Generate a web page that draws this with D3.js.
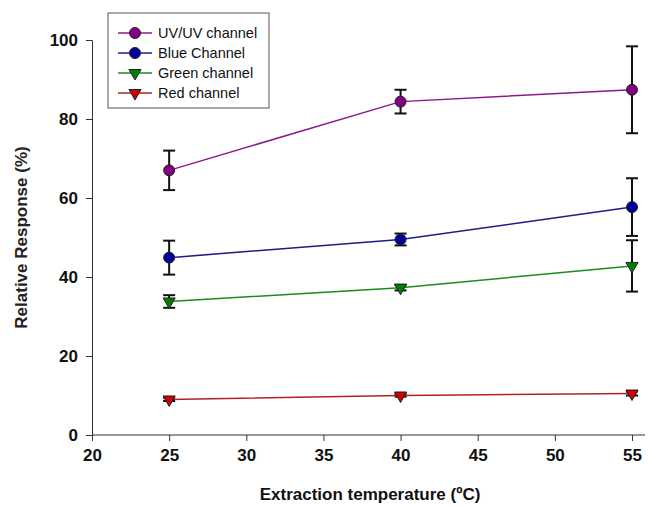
<!DOCTYPE html>
<html>
<head>
<meta charset="utf-8">
<script src="https://cdn.jsdelivr.net/npm/d3@7"></script>
<style>
  body { margin: 0; background: #fff; }
  svg text { font-family: "Liberation Sans", Arial, sans-serif; }
</style>
</head>
<body>
<div id="chart"></div>
<script>
// data
const temps = [25, 40, 55];
const seriesNames = ["UV/UV channel", "Blue Channel", "Green channel", "Red channel"];
const uvValues = [67, 84.4, 87.4];
const uvErr = [5, 3, 11];
const blueValues = [44.9, 49.5, 57.7];
const blueErr = [4.3, 1.5, 7.3];
const greenValues = [33.8, 37.3, 42.8];
const greenErr = [1.6, 0.7, 6.5];
const redValues = [9, 10, 10.5];
const redErr = [0.4, 0.3, 0.5];
const xTicks = [20, 25, 30, 35, 40, 45, 50, 55];
const yTicks = [0, 20, 40, 60, 80, 100];

const lineColors = ["#8b1a8b", "#1c1c8c", "#1f8a1f", "#b22222"];
const markerFill = ["#800080", "#000099", "#008000", "#cc0000"];
const markerShape = ["circle", "circle", "tri", "tri"];

const allErrs = [uvErr, blueErr, greenErr, redErr];
const series = [uvValues, blueValues, greenValues, redValues].map((vals, i) => ({
    name: seriesNames[i],
    points: vals.map((v, j) => ({x: temps[j], y: v, e: allErrs[i][j]})),
    color: lineColors[i],
    fill: markerFill[i],
    shape: markerShape[i]
}));

const W = 648, H = 507;
const margin = {top: 40, right: 16, bottom: 72, left: 92};

const svg = d3.select("#chart").append("svg")
    .attr("width", W)
    .attr("height", H);

const x = d3.scaleLinear().domain([20, 55]).range([margin.left, 632]);
const y = d3.scaleLinear().domain([0, 100]).range([435, margin.top]);

// axes
const xAxis = svg.append("g")
    .attr("transform", `translate(0, ${y(0)})`)
    .call(d3.axisBottom(x).tickValues(xTicks).tickSize(6).tickPadding(8));
xAxis.select(".domain").attr("d", `M${x(20)},0H${W - 3}`);

const yAxis = svg.append("g")
    .attr("transform", `translate(${x(20)}, 0)`)
    .call(d3.axisLeft(y).tickValues(yTicks).tickSize(6).tickPadding(8));

svg.selectAll(".tick text")
    .style("font-size", "17px")
    .style("font-weight", "bold")
    .attr("fill", "#111");
svg.selectAll(".domain, .tick line").attr("stroke", "#333").attr("stroke-width", 1);

// axis titles
svg.append("text")
    .attr("x", 370)
    .attr("y", 500)
    .attr("text-anchor", "middle")
    .style("font-size", "17px")
    .style("font-weight", "bold")
    .attr("fill", "#111")
    .text("Extraction temperature (\u00BAC)");

svg.append("text")
    .attr("transform", `translate(27, ${y(50)}) rotate(-90)`)
    .attr("text-anchor", "middle")
    .style("font-size", "17px")
    .style("font-weight", "bold")
    .attr("fill", "#222")
    .text("Relative Response (%)");

const line = d3.line().x(d => x(d.x)).y(d => y(d.y));
const tri = d3.symbol().type(d3.symbolTriangle).size(64);

function drawMarker(g, s, cx, cy) {
    if (s.shape === "circle") {
        g.append("circle")
            .attr("cx", cx).attr("cy", cy).attr("r", 5.5)
            .attr("fill", s.fill).attr("stroke", "#222").attr("stroke-width", 1);
    } else {
        g.append("path")
            .attr("d", tri())
            .attr("transform", `translate(${cx}, ${cy}) rotate(180)`)
            .attr("fill", s.fill).attr("stroke", "#222").attr("stroke-width", 1);
    }
}

// error bars first, then lines and markers
series.forEach(s => {
    const g = svg.append("g");
    s.points.forEach(p => {
        const cx = x(p.x);
        g.append("line")
            .attr("x1", cx).attr("x2", cx)
            .attr("y1", y(p.y - p.e)).attr("y2", y(p.y + p.e))
            .attr("stroke", "#111").attr("stroke-width", 2);
        [p.y - p.e, p.y + p.e].forEach(v => {
            g.append("line")
                .attr("x1", cx - 6).attr("x2", cx + 6)
                .attr("y1", y(v)).attr("y2", y(v))
                .attr("stroke", "#111").attr("stroke-width", 2);
        });
    });
});

series.forEach(s => {
    svg.append("path")
        .datum(s.points)
        .attr("d", line)
        .attr("fill", "none")
        .attr("stroke", s.color)
        .attr("stroke-width", 1.5);
    const g = svg.append("g");
    s.points.forEach(p => drawMarker(g, s, x(p.x), y(p.y)));
});

// legend
const legend = svg.append("g").attr("transform", "translate(108, 13)");
legend.append("rect")
    .attr("width", 161).attr("height", 95)
    .attr("fill", "#fff").attr("stroke", "#555").attr("stroke-width", 1);

series.forEach((s, i) => {
    const ly = 20 + i * 20;
    legend.append("line")
        .attr("x1", 10).attr("x2", 44)
        .attr("y1", ly).attr("y2", ly)
        .attr("stroke", s.color).attr("stroke-width", 1.5);
    drawMarker(legend, s, 27, ly);
    legend.append("text")
        .attr("x", 50).attr("y", ly + 5)
        .style("font-size", "14.5px")
        .attr("fill", "#111")
        .text(s.name);
});
</script>
</body>
</html>
